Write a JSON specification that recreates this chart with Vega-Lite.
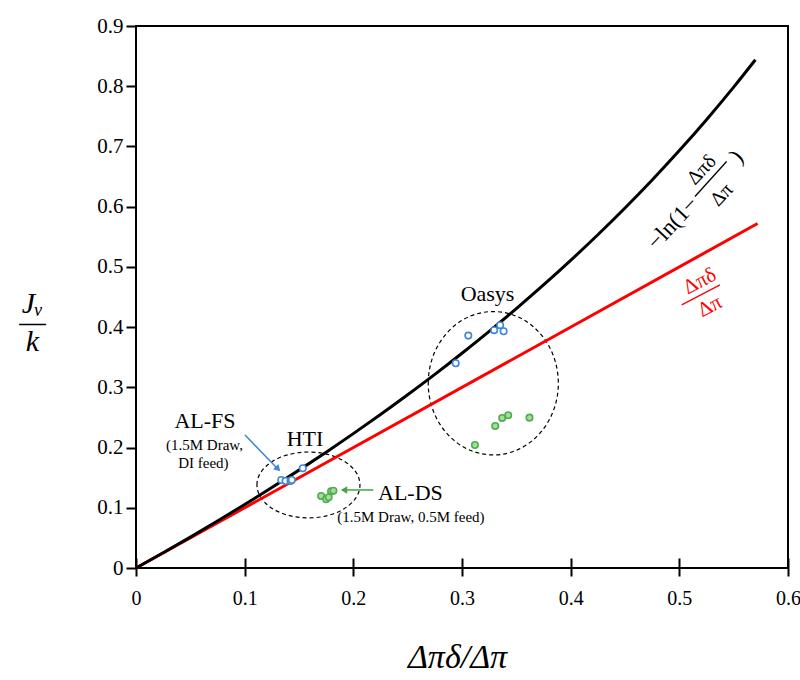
{
  "$schema": "https://vega.github.io/schema/vega-lite/v6.json",
  "width": 652,
  "height": 542,
  "autosize": {"type": "none"},
  "padding": {"left": 136, "top": 26, "right": 12, "bottom": 112},
  "background": "white",
  "config": {
    "view": {"stroke": "black", "strokeWidth": 2},
    "font": "Liberation Serif",
    "text": {"font": "Liberation Serif"},
    "axis": {"labelFont": "Liberation Serif", "titleFont": "Liberation Serif"}
  },
  "datasets": {
    "curve": [
      {"x": 0, "y": 0}, {"x": 0.025, "y": 0.02532}, {"x": 0.05, "y": 0.05129}, {"x": 0.075, "y": 0.07796},
      {"x": 0.1, "y": 0.10536}, {"x": 0.125, "y": 0.13353}, {"x": 0.15, "y": 0.16252}, {"x": 0.175, "y": 0.19237},
      {"x": 0.2, "y": 0.22314}, {"x": 0.225, "y": 0.25489}, {"x": 0.25, "y": 0.28768}, {"x": 0.275, "y": 0.32158},
      {"x": 0.3, "y": 0.35667}, {"x": 0.325, "y": 0.39304}, {"x": 0.35, "y": 0.43078}, {"x": 0.375, "y": 0.47},
      {"x": 0.4, "y": 0.51083}, {"x": 0.425, "y": 0.55339}, {"x": 0.45, "y": 0.59784}, {"x": 0.475, "y": 0.64436},
      {"x": 0.5, "y": 0.69315}, {"x": 0.525, "y": 0.74444}, {"x": 0.55, "y": 0.79851}, {"x": 0.57, "y": 0.84397}
    ],
    "linear": [{"x": 0, "y": 0}, {"x": 0.572, "y": 0.572}],
    "points": [
      {"kind": "FS", "x": 0.1337, "y": 0.1462},
      {"kind": "FS", "x": 0.1376, "y": 0.1445},
      {"kind": "FS", "x": 0.1422, "y": 0.1445},
      {"kind": "FS", "x": 0.1434, "y": 0.1462},
      {"kind": "FS", "x": 0.1535, "y": 0.1656},
      {"kind": "DS", "x": 0.1704, "y": 0.1196},
      {"kind": "DS", "x": 0.175, "y": 0.1141},
      {"kind": "DS", "x": 0.1773, "y": 0.1174},
      {"kind": "DS", "x": 0.1795, "y": 0.1274},
      {"kind": "DS", "x": 0.1817, "y": 0.1284},
      {"kind": "FS", "x": 0.3058, "y": 0.3859},
      {"kind": "FS", "x": 0.2942, "y": 0.34},
      {"kind": "FS", "x": 0.3296, "y": 0.3949},
      {"kind": "FS", "x": 0.3351, "y": 0.4032},
      {"kind": "FS", "x": 0.3383, "y": 0.3932},
      {"kind": "DS", "x": 0.3119, "y": 0.2043},
      {"kind": "DS", "x": 0.3306, "y": 0.2359},
      {"kind": "DS", "x": 0.337, "y": 0.2492},
      {"kind": "DS", "x": 0.3425, "y": 0.2537},
      {"kind": "DS", "x": 0.3621, "y": 0.2497}
    ],
    "ellipses": [
      {"name": "HTI", "x": 0.1587, "y": 0.1379},
      {"name": "Oasys", "x": 0.3288, "y": 0.3068}
    ],
    "segments": [
      {"kind": "blue", "x": 0.1003, "y": 0.2209, "x2": 0.1297, "y2": 0.1659},
      {"kind": "green", "x": 0.2184, "y": 0.1296, "x2": 0.1914, "y2": 0.1296},
      {"kind": "black", "x": 0.5144, "y": 0.6168, "x2": 0.5435, "y2": 0.675},
      {"kind": "red", "x": 0.5022, "y": 0.4369, "x2": 0.5374, "y2": 0.4701}
    ],
    "heads": [
      {"kind": "blue", "x": 0.1307, "y": 0.1645},
      {"kind": "green", "x": 0.1914, "y": 0.1296}
    ],
    "labels": [
      {"group": "big", "text": "AL-FS", "x": 0.0635, "y": 0.232},
      {"group": "big", "text": "HTI", "x": 0.1555, "y": 0.2027},
      {"group": "big", "text": "Oasys", "x": 0.3235, "y": 0.444},
      {"group": "bigleft", "text": "AL-DS", "x": 0.2227, "y": 0.113},
      {"group": "small", "text": "(1.5M Draw,", "x": 0.063, "y": 0.196},
      {"group": "small", "text": "DI feed)", "x": 0.062, "y": 0.1656},
      {"group": "small", "text": "(1.5M Draw, 0.5M feed)", "x": 0.253, "y": 0.0764},
      {"group": "lnrot", "text": "−ln(1−", "x": 0.494, "y": 0.5726},
      {"group": "lnrot", "text": ")", "x": 0.5528, "y": 0.683},
      {"group": "fracrot", "text": "Δπδ", "x": 0.5206, "y": 0.661},
      {"group": "fracrot", "text": "Δπ", "x": 0.539, "y": 0.6196},
      {"group": "red", "text": "Δπδ", "x": 0.519, "y": 0.4756},
      {"group": "red", "text": "Δπ", "x": 0.5282, "y": 0.434}
    ]
  },
  "encoding": {
    "x": {
      "field": "x",
      "type": "quantitative",
      "scale": {"domain": [0, 0.6], "nice": false, "zero": false},
      "axis": {
        "title": "Δπδ/Δπ",
        "values": [0, 0.1, 0.2, 0.3, 0.4, 0.5, 0.6],
        "format": "~g",
        "grid": false,
        "domain": false,
        "offset": -10,
        "tickSize": 18,
        "tickWidth": 2,
        "tickColor": "black",
        "labelFont": "Liberation Serif",
        "labelFontSize": 20,
        "labelColor": "black",
        "labelPadding": 12,
        "labelFlush": false,
        "titleFont": "Liberation Serif",
        "titleFontSize": 34,
        "titleFontStyle": "italic",
        "titleFontWeight": "normal",
        "titleColor": "black",
        "titleX": 321,
        "titleY": 109,
        "titleBaseline": "alphabetic"
      }
    },
    "y": {
      "field": "y",
      "type": "quantitative",
      "scale": {"domain": [0, 0.9], "nice": false, "zero": false},
      "axis": {
        "title": ["Jᵥ", "—", "k"],
        "values": [0, 0.1, 0.2, 0.3, 0.4, 0.5, 0.6, 0.7, 0.8, 0.9],
        "format": "~g",
        "grid": false,
        "domain": false,
        "tickSize": 10,
        "tickWidth": 2,
        "tickColor": "black",
        "labelFont": "Liberation Serif",
        "labelFontSize": 21,
        "labelColor": "black",
        "labelPadding": 3,
        "labelFlush": false,
        "titleFont": "Liberation Serif",
        "titleFontSize": 30,
        "titleFontStyle": "italic",
        "titleFontWeight": "normal",
        "titleColor": "black",
        "titleAngle": 0,
        "titleAlign": "center",
        "titleBaseline": "alphabetic",
        "titleLineHeight": 19,
        "titleX": -104,
        "titleY": 286
      }
    }
  },
  "layer": [
    {
      "data": {"name": "ellipses"},
      "transform": [{"filter": "datum.name === 'HTI'"}],
      "mark": {"type": "point", "shape": "M-1,0C-1,-0.3535,-0.5523,-0.64,0,-0.64C0.5523,-0.64,1,-0.3535,1,0C1,0.3535,0.5523,0.64,0,0.64C-0.5523,0.64,-1,0.3535,-1,0Z", "size": 10609, "filled": false, "stroke": "black", "strokeWidth": 1.2, "strokeDash": [4, 3], "opacity": 1}
    },
    {
      "data": {"name": "ellipses"},
      "transform": [{"filter": "datum.name === 'Oasys'"}],
      "mark": {"type": "point", "shape": "M-0.907,0C-0.907,-0.5523,-0.501,-1,0,-1C0.501,-1,0.907,-0.5523,0.907,0C0.907,0.5523,0.501,1,0,1C-0.501,1,-0.907,0.5523,-0.907,0Z", "size": 20564, "filled": false, "stroke": "black", "strokeWidth": 1.2, "strokeDash": [4, 3], "opacity": 1}
    },
    {
      "data": {"name": "linear"},
      "mark": {"type": "line", "color": "#ff0000", "strokeWidth": 3}
    },
    {
      "data": {"name": "curve"},
      "mark": {"type": "line", "color": "black", "strokeWidth": 3, "interpolate": "monotone"}
    },
    {
      "data": {"name": "points"},
      "transform": [{"filter": "datum.kind === 'FS'"}],
      "mark": {"type": "point", "shape": "circle", "size": 42, "filled": true, "fill": "white", "stroke": "#3f86d6", "strokeWidth": 1.6, "opacity": 1}
    },
    {
      "data": {"name": "points"},
      "transform": [{"filter": "datum.kind === 'DS'"}],
      "mark": {"type": "point", "shape": "circle", "size": 42, "filled": true, "fill": "#a8d9a0", "stroke": "#4cae4c", "strokeWidth": 1.6, "opacity": 1}
    },
    {
      "data": {"name": "segments"},
      "transform": [{"filter": "datum.kind === 'blue'"}],
      "mark": {"type": "rule", "color": "#3f86d6", "strokeWidth": 1.5},
      "encoding": {"x2": {"field": "x2"}, "y2": {"field": "y2"}}
    },
    {
      "data": {"name": "segments"},
      "transform": [{"filter": "datum.kind === 'green'"}],
      "mark": {"type": "rule", "color": "#3fa83f", "strokeWidth": 1.5},
      "encoding": {"x2": {"field": "x2"}, "y2": {"field": "y2"}}
    },
    {
      "data": {"name": "segments"},
      "transform": [{"filter": "datum.kind === 'black'"}],
      "mark": {"type": "rule", "color": "black", "strokeWidth": 1.3},
      "encoding": {"x2": {"field": "x2"}, "y2": {"field": "y2"}}
    },
    {
      "data": {"name": "segments"},
      "transform": [{"filter": "datum.kind === 'red'"}],
      "mark": {"type": "rule", "color": "#ff0000", "strokeWidth": 1.3},
      "encoding": {"x2": {"field": "x2"}, "y2": {"field": "y2"}}
    },
    {
      "data": {"name": "heads"},
      "transform": [{"filter": "datum.kind === 'blue'"}],
      "mark": {"type": "point", "shape": "triangle-right", "angle": 45, "size": 55, "filled": true, "color": "#3f86d6", "opacity": 1}
    },
    {
      "data": {"name": "heads"},
      "transform": [{"filter": "datum.kind === 'green'"}],
      "mark": {"type": "point", "shape": "triangle-left", "size": 55, "filled": true, "color": "#3fa83f", "opacity": 1}
    },
    {
      "data": {"name": "labels"},
      "transform": [{"filter": "datum.group === 'big'"}],
      "mark": {"type": "text", "font": "Liberation Serif", "fontSize": 22, "align": "center", "baseline": "alphabetic", "color": "black"},
      "encoding": {"text": {"field": "text"}}
    },
    {
      "data": {"name": "labels"},
      "transform": [{"filter": "datum.group === 'bigleft'"}],
      "mark": {"type": "text", "font": "Liberation Serif", "fontSize": 22, "align": "left", "baseline": "alphabetic", "color": "black"},
      "encoding": {"text": {"field": "text"}}
    },
    {
      "data": {"name": "labels"},
      "transform": [{"filter": "datum.group === 'small'"}],
      "mark": {"type": "text", "font": "Liberation Serif", "fontSize": 15, "align": "center", "baseline": "alphabetic", "color": "black"},
      "encoding": {"text": {"field": "text"}}
    },
    {
      "data": {"name": "labels"},
      "transform": [{"filter": "datum.group === 'lnrot'"}],
      "mark": {"type": "text", "font": "Liberation Serif", "fontSize": 23, "align": "center", "baseline": "middle", "angle": -47, "color": "black"},
      "encoding": {"text": {"field": "text"}}
    },
    {
      "data": {"name": "labels"},
      "transform": [{"filter": "datum.group === 'fracrot'"}],
      "mark": {"type": "text", "font": "Liberation Serif", "fontSize": 20, "align": "center", "baseline": "middle", "angle": -47, "color": "black"},
      "encoding": {"text": {"field": "text"}}
    },
    {
      "data": {"name": "labels"},
      "transform": [{"filter": "datum.group === 'red'"}],
      "mark": {"type": "text", "font": "Liberation Serif", "fontSize": 21, "align": "center", "baseline": "middle", "angle": -28, "color": "#ff0000"},
      "encoding": {"text": {"field": "text"}}
    }
  ]
}
